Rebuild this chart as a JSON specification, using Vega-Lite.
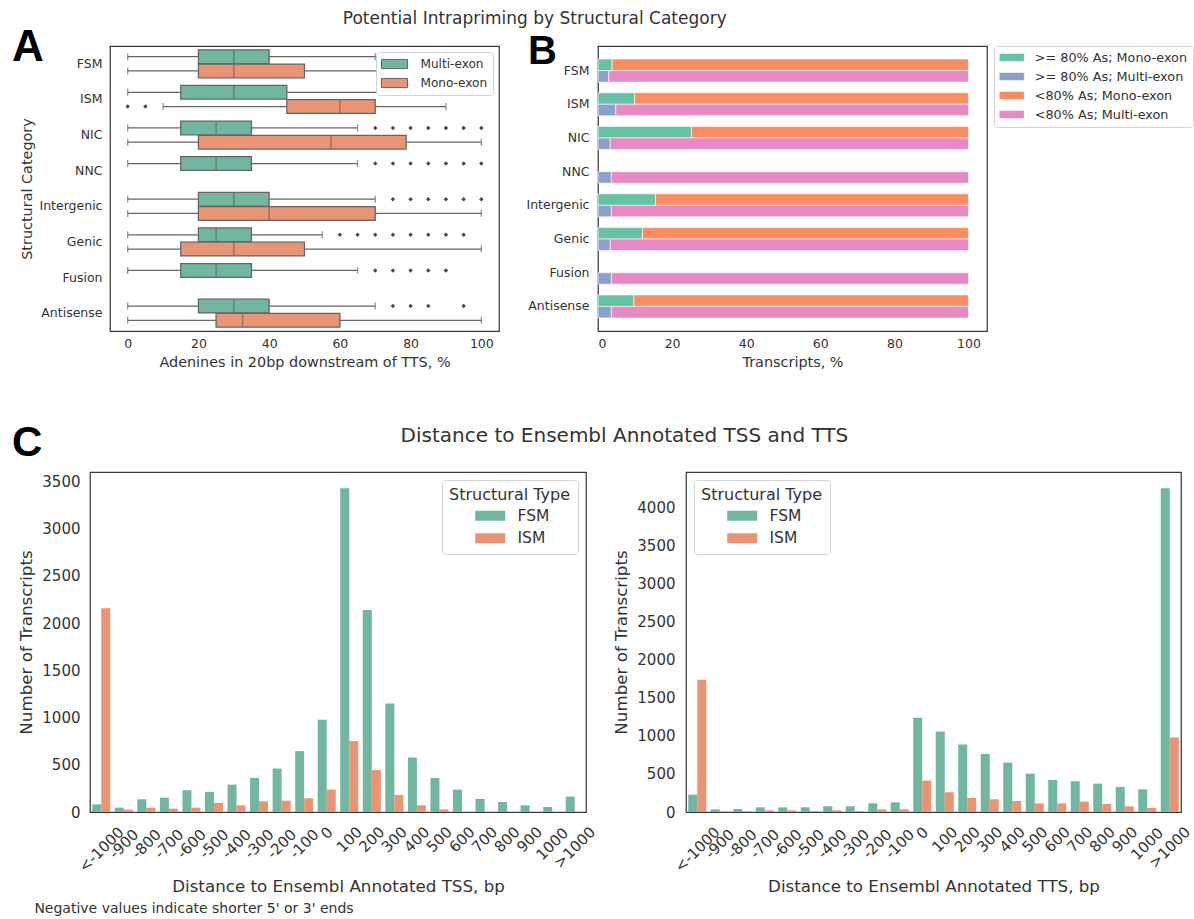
{
  "$schema": "https://vega.github.io/schema/vega-lite/v6.json",
  "background": "white",
  "padding": {"left": 11, "top": 10, "right": 0, "bottom": 4},
  "config": {
    "font": "DejaVu Sans",
    "view": {"stroke": "#3a3a3a", "strokeWidth": 1.25},
    "axis": {"domain": false, "ticks": false, "grid": false, "labelColor": "#333333", "titleColor": "#333333", "titleFontWeight": "normal", "labelFont": "DejaVu Sans", "titleFont": "DejaVu Sans"},
    "legend": {"labelColor": "#333333", "titleColor": "#333333", "titleFontWeight": "normal", "labelFont": "DejaVu Sans", "titleFont": "DejaVu Sans"},
    "title": {"color": "#333333", "fontWeight": "normal", "font": "DejaVu Sans"}
  },
  "title": {"text": "Negative values indicate shorter 5' or 3' ends", "orient": "bottom", "anchor": "start", "fontSize": 14, "offset": 6, "dx": 23},
  "datasets": {
    "boxes": [
      {"cat": "FSM", "exon": "Multi-exon", "lo": 0, "q1": 20, "med": 30, "q3": 40, "hi": 70},
      {"cat": "FSM", "exon": "Mono-exon", "lo": 0, "q1": 20, "med": 30, "q3": 50, "hi": 95},
      {"cat": "ISM", "exon": "Multi-exon", "lo": 0, "q1": 15, "med": 30, "q3": 45, "hi": 85},
      {"cat": "ISM", "exon": "Mono-exon", "lo": 10, "q1": 45, "med": 60, "q3": 70, "hi": 90},
      {"cat": "NIC", "exon": "Multi-exon", "lo": 0, "q1": 15, "med": 25, "q3": 35, "hi": 65},
      {"cat": "NIC", "exon": "Mono-exon", "lo": 0, "q1": 20, "med": 57.5, "q3": 78.75, "hi": 100},
      {"cat": "NNC", "exon": "Multi-exon", "lo": 0, "q1": 15, "med": 25, "q3": 35, "hi": 65},
      {"cat": "Intergenic", "exon": "Multi-exon", "lo": 0, "q1": 20, "med": 30, "q3": 40, "hi": 70},
      {"cat": "Intergenic", "exon": "Mono-exon", "lo": 0, "q1": 20, "med": 40, "q3": 70, "hi": 100},
      {"cat": "Genic", "exon": "Multi-exon", "lo": 0, "q1": 20, "med": 25, "q3": 35, "hi": 55},
      {"cat": "Genic", "exon": "Mono-exon", "lo": 0, "q1": 15, "med": 30, "q3": 50, "hi": 100},
      {"cat": "Fusion", "exon": "Multi-exon", "lo": 0, "q1": 15, "med": 25, "q3": 35, "hi": 65},
      {"cat": "Antisense", "exon": "Multi-exon", "lo": 0, "q1": 20, "med": 30, "q3": 40, "hi": 70},
      {"cat": "Antisense", "exon": "Mono-exon", "lo": 0, "q1": 25, "med": 32.5, "q3": 60, "hi": 100}
    ],
    "fliers": [
      {"cat": "FSM", "exon": "Multi-exon", "v": 75}, {"cat": "FSM", "exon": "Multi-exon", "v": 80}, {"cat": "FSM", "exon": "Multi-exon", "v": 85}, {"cat": "FSM", "exon": "Multi-exon", "v": 90}, {"cat": "FSM", "exon": "Multi-exon", "v": 95}, {"cat": "FSM", "exon": "Multi-exon", "v": 100},
      {"cat": "ISM", "exon": "Multi-exon", "v": 90}, {"cat": "ISM", "exon": "Multi-exon", "v": 95}, {"cat": "ISM", "exon": "Multi-exon", "v": 100},
      {"cat": "ISM", "exon": "Mono-exon", "v": 0}, {"cat": "ISM", "exon": "Mono-exon", "v": 5},
      {"cat": "NIC", "exon": "Multi-exon", "v": 70}, {"cat": "NIC", "exon": "Multi-exon", "v": 75}, {"cat": "NIC", "exon": "Multi-exon", "v": 80}, {"cat": "NIC", "exon": "Multi-exon", "v": 85}, {"cat": "NIC", "exon": "Multi-exon", "v": 90}, {"cat": "NIC", "exon": "Multi-exon", "v": 95}, {"cat": "NIC", "exon": "Multi-exon", "v": 100},
      {"cat": "NNC", "exon": "Multi-exon", "v": 70}, {"cat": "NNC", "exon": "Multi-exon", "v": 75}, {"cat": "NNC", "exon": "Multi-exon", "v": 80}, {"cat": "NNC", "exon": "Multi-exon", "v": 85}, {"cat": "NNC", "exon": "Multi-exon", "v": 90}, {"cat": "NNC", "exon": "Multi-exon", "v": 95}, {"cat": "NNC", "exon": "Multi-exon", "v": 100},
      {"cat": "Intergenic", "exon": "Multi-exon", "v": 75}, {"cat": "Intergenic", "exon": "Multi-exon", "v": 80}, {"cat": "Intergenic", "exon": "Multi-exon", "v": 85}, {"cat": "Intergenic", "exon": "Multi-exon", "v": 90}, {"cat": "Intergenic", "exon": "Multi-exon", "v": 95}, {"cat": "Intergenic", "exon": "Multi-exon", "v": 100},
      {"cat": "Genic", "exon": "Multi-exon", "v": 60}, {"cat": "Genic", "exon": "Multi-exon", "v": 65}, {"cat": "Genic", "exon": "Multi-exon", "v": 70}, {"cat": "Genic", "exon": "Multi-exon", "v": 75}, {"cat": "Genic", "exon": "Multi-exon", "v": 80}, {"cat": "Genic", "exon": "Multi-exon", "v": 85}, {"cat": "Genic", "exon": "Multi-exon", "v": 90}, {"cat": "Genic", "exon": "Multi-exon", "v": 95},
      {"cat": "Fusion", "exon": "Multi-exon", "v": 70}, {"cat": "Fusion", "exon": "Multi-exon", "v": 75}, {"cat": "Fusion", "exon": "Multi-exon", "v": 80}, {"cat": "Fusion", "exon": "Multi-exon", "v": 85}, {"cat": "Fusion", "exon": "Multi-exon", "v": 90},
      {"cat": "Antisense", "exon": "Multi-exon", "v": 75}, {"cat": "Antisense", "exon": "Multi-exon", "v": 80}, {"cat": "Antisense", "exon": "Multi-exon", "v": 85}, {"cat": "Antisense", "exon": "Multi-exon", "v": 95}
    ],
    "pct": [
      {"cat": "FSM", "bar": "Mono", "series": ">= 80% As; Mono-exon", "pct": 3.8, "ord": 1},
      {"cat": "FSM", "bar": "Mono", "series": "<80% As; Mono-exon", "pct": 96.2, "ord": 2},
      {"cat": "FSM", "bar": "Multi", "series": ">= 80% As; Multi-exon", "pct": 2.9, "ord": 1},
      {"cat": "FSM", "bar": "Multi", "series": "<80% As; Multi-exon", "pct": 97.1, "ord": 2},
      {"cat": "ISM", "bar": "Mono", "series": ">= 80% As; Mono-exon", "pct": 9.9, "ord": 1},
      {"cat": "ISM", "bar": "Mono", "series": "<80% As; Mono-exon", "pct": 90.1, "ord": 2},
      {"cat": "ISM", "bar": "Multi", "series": ">= 80% As; Multi-exon", "pct": 4.8, "ord": 1},
      {"cat": "ISM", "bar": "Multi", "series": "<80% As; Multi-exon", "pct": 95.2, "ord": 2},
      {"cat": "NIC", "bar": "Mono", "series": ">= 80% As; Mono-exon", "pct": 25.2, "ord": 1},
      {"cat": "NIC", "bar": "Mono", "series": "<80% As; Mono-exon", "pct": 74.8, "ord": 2},
      {"cat": "NIC", "bar": "Multi", "series": ">= 80% As; Multi-exon", "pct": 3.3, "ord": 1},
      {"cat": "NIC", "bar": "Multi", "series": "<80% As; Multi-exon", "pct": 96.7, "ord": 2},
      {"cat": "NNC", "bar": "Multi", "series": ">= 80% As; Multi-exon", "pct": 3.6, "ord": 1},
      {"cat": "NNC", "bar": "Multi", "series": "<80% As; Multi-exon", "pct": 96.4, "ord": 2},
      {"cat": "Intergenic", "bar": "Mono", "series": ">= 80% As; Mono-exon", "pct": 15.5, "ord": 1},
      {"cat": "Intergenic", "bar": "Mono", "series": "<80% As; Mono-exon", "pct": 84.5, "ord": 2},
      {"cat": "Intergenic", "bar": "Multi", "series": ">= 80% As; Multi-exon", "pct": 3.6, "ord": 1},
      {"cat": "Intergenic", "bar": "Multi", "series": "<80% As; Multi-exon", "pct": 96.4, "ord": 2},
      {"cat": "Genic", "bar": "Mono", "series": ">= 80% As; Mono-exon", "pct": 12.0, "ord": 1},
      {"cat": "Genic", "bar": "Mono", "series": "<80% As; Mono-exon", "pct": 88.0, "ord": 2},
      {"cat": "Genic", "bar": "Multi", "series": ">= 80% As; Multi-exon", "pct": 3.3, "ord": 1},
      {"cat": "Genic", "bar": "Multi", "series": "<80% As; Multi-exon", "pct": 96.7, "ord": 2},
      {"cat": "Fusion", "bar": "Multi", "series": ">= 80% As; Multi-exon", "pct": 3.6, "ord": 1},
      {"cat": "Fusion", "bar": "Multi", "series": "<80% As; Multi-exon", "pct": 96.4, "ord": 2},
      {"cat": "Antisense", "bar": "Mono", "series": ">= 80% As; Mono-exon", "pct": 9.7, "ord": 1},
      {"cat": "Antisense", "bar": "Mono", "series": "<80% As; Mono-exon", "pct": 90.3, "ord": 2},
      {"cat": "Antisense", "bar": "Multi", "series": ">= 80% As; Multi-exon", "pct": 3.6, "ord": 1},
      {"cat": "Antisense", "bar": "Multi", "series": "<80% As; Multi-exon", "pct": 96.4, "ord": 2}
    ],
    "tss": [
      {"bin": "<-1000", "stype": "FSM", "n": 81}, {"bin": "<-1000", "stype": "ISM", "n": 2157},
      {"bin": "-900", "stype": "FSM", "n": 46}, {"bin": "-900", "stype": "ISM", "n": 25},
      {"bin": "-800", "stype": "FSM", "n": 135}, {"bin": "-800", "stype": "ISM", "n": 46},
      {"bin": "-700", "stype": "FSM", "n": 152}, {"bin": "-700", "stype": "ISM", "n": 35},
      {"bin": "-600", "stype": "FSM", "n": 230}, {"bin": "-600", "stype": "ISM", "n": 46},
      {"bin": "-500", "stype": "FSM", "n": 213}, {"bin": "-500", "stype": "ISM", "n": 96},
      {"bin": "-400", "stype": "FSM", "n": 290}, {"bin": "-400", "stype": "ISM", "n": 71},
      {"bin": "-300", "stype": "FSM", "n": 361}, {"bin": "-300", "stype": "ISM", "n": 113},
      {"bin": "-200", "stype": "FSM", "n": 460}, {"bin": "-200", "stype": "ISM", "n": 120},
      {"bin": "-100", "stype": "FSM", "n": 645}, {"bin": "-100", "stype": "ISM", "n": 145},
      {"bin": "0", "stype": "FSM", "n": 978}, {"bin": "0", "stype": "ISM", "n": 237},
      {"bin": "100", "stype": "FSM", "n": 3429}, {"bin": "100", "stype": "ISM", "n": 751},
      {"bin": "200", "stype": "FSM", "n": 2140}, {"bin": "200", "stype": "ISM", "n": 446},
      {"bin": "300", "stype": "FSM", "n": 1148}, {"bin": "300", "stype": "ISM", "n": 181},
      {"bin": "400", "stype": "FSM", "n": 577}, {"bin": "400", "stype": "ISM", "n": 71},
      {"bin": "500", "stype": "FSM", "n": 361}, {"bin": "500", "stype": "ISM", "n": 28},
      {"bin": "600", "stype": "FSM", "n": 237}, {"bin": "600", "stype": "ISM", "n": 0},
      {"bin": "700", "stype": "FSM", "n": 138}, {"bin": "700", "stype": "ISM", "n": 0},
      {"bin": "800", "stype": "FSM", "n": 106}, {"bin": "800", "stype": "ISM", "n": 0},
      {"bin": "900", "stype": "FSM", "n": 71}, {"bin": "900", "stype": "ISM", "n": 0},
      {"bin": "1000", "stype": "FSM", "n": 53}, {"bin": "1000", "stype": "ISM", "n": 0},
      {"bin": ">1000", "stype": "FSM", "n": 163}, {"bin": ">1000", "stype": "ISM", "n": 0}
    ],
    "tts": [
      {"bin": "<-1000", "stype": "FSM", "n": 228}, {"bin": "<-1000", "stype": "ISM", "n": 1737},
      {"bin": "-900", "stype": "FSM", "n": 35}, {"bin": "-900", "stype": "ISM", "n": 3},
      {"bin": "-800", "stype": "FSM", "n": 39}, {"bin": "-800", "stype": "ISM", "n": 9},
      {"bin": "-700", "stype": "FSM", "n": 61}, {"bin": "-700", "stype": "ISM", "n": 22},
      {"bin": "-600", "stype": "FSM", "n": 61}, {"bin": "-600", "stype": "ISM", "n": 22},
      {"bin": "-500", "stype": "FSM", "n": 61}, {"bin": "-500", "stype": "ISM", "n": 9},
      {"bin": "-400", "stype": "FSM", "n": 75}, {"bin": "-400", "stype": "ISM", "n": 22},
      {"bin": "-300", "stype": "FSM", "n": 75}, {"bin": "-300", "stype": "ISM", "n": 9},
      {"bin": "-200", "stype": "FSM", "n": 114}, {"bin": "-200", "stype": "ISM", "n": 35},
      {"bin": "-100", "stype": "FSM", "n": 127}, {"bin": "-100", "stype": "ISM", "n": 35},
      {"bin": "0", "stype": "FSM", "n": 1237}, {"bin": "0", "stype": "ISM", "n": 412},
      {"bin": "100", "stype": "FSM", "n": 1057}, {"bin": "100", "stype": "ISM", "n": 259},
      {"bin": "200", "stype": "FSM", "n": 886}, {"bin": "200", "stype": "ISM", "n": 184},
      {"bin": "300", "stype": "FSM", "n": 763}, {"bin": "300", "stype": "ISM", "n": 167},
      {"bin": "400", "stype": "FSM", "n": 649}, {"bin": "400", "stype": "ISM", "n": 145},
      {"bin": "500", "stype": "FSM", "n": 504}, {"bin": "500", "stype": "ISM", "n": 114},
      {"bin": "600", "stype": "FSM", "n": 421}, {"bin": "600", "stype": "ISM", "n": 114},
      {"bin": "700", "stype": "FSM", "n": 404}, {"bin": "700", "stype": "ISM", "n": 136},
      {"bin": "800", "stype": "FSM", "n": 373}, {"bin": "800", "stype": "ISM", "n": 105},
      {"bin": "900", "stype": "FSM", "n": 329}, {"bin": "900", "stype": "ISM", "n": 75},
      {"bin": "1000", "stype": "FSM", "n": 298}, {"bin": "1000", "stype": "ISM", "n": 53},
      {"bin": ">1000", "stype": "FSM", "n": 4250}, {"bin": ">1000", "stype": "ISM", "n": 978}
    ]
  },
  "columns": 1,
  "spacing": 51,
  "resolve": {"scale": {"color": "independent", "xOffset": "independent", "yOffset": "independent"}, "legend": {"color": "independent"}},
  "concat": [
    {
      "title": {"text": "Potential Intrapriming by Structural Category", "fontSize": 17, "anchor": "middle", "offset": -3, "dx": -68},
      "spacing": -80,
      "resolve": {"scale": {"color": "independent", "xOffset": "independent", "yOffset": "independent"}, "legend": {"color": "independent"}},
      "hconcat": [
        {
          "width": 1,
          "height": 1,
          "view": {"stroke": null},
          "data": {"values": []},
          "mark": {"type": "point"},
          "encoding": {}
        },
        {
          "spacing": 25,
          "resolve": {"scale": {"color": "independent", "xOffset": "independent", "yOffset": "independent"}, "legend": {"color": "independent"}},
          "hconcat": [
            {
              "width": 389,
              "height": 285,
              "title": {"text": "A", "font": "Liberation Sans", "fontSize": 44, "fontWeight": "bold", "color": "#000000", "anchor": "start", "frame": "group", "dx": -98, "offset": -59, "baseline": "alphabetic"},
              "data": {"name": "boxes"},
              "layer": [
                {
                  "mark": {"type": "rule", "color": "#666666", "strokeWidth": 1.3},
                  "encoding": {
                    "y": {"field": "cat", "type": "nominal", "scale": {"domain": ["FSM", "ISM", "NIC", "NNC", "Intergenic", "Genic", "Fusion", "Antisense"], "paddingInner": 0.2, "paddingOuter": 0.1}, "axis": {"title": "Structural Category", "labelFontSize": 12.5, "labelPadding": 8, "titleFontSize": 14.4, "titlePadding": 4}},
                    "yOffset": {"field": "exon", "type": "nominal", "scale": {"domain": ["Multi-exon", "Mono-exon"], "paddingInner": 0.04, "paddingOuter": 0.02}},
                    "x": {"field": "lo", "type": "quantitative", "title": "Adenines in 20bp downstream of TTS, %", "scale": {"domain": [-5, 105], "nice": false, "zero": false}, "axis": {"values": [0, 20, 40, 60, 80, 100], "labelFontSize": 12.5, "labelPadding": 6, "titleFontSize": 14.4, "titlePadding": 6}},
                    "x2": {"field": "hi"}
                  }
                },
                {
                  "mark": {"type": "tick", "color": "#666666", "size": 7, "thickness": 1.3},
                  "encoding": {
                    "y": {"field": "cat", "type": "nominal"},
                    "yOffset": {"field": "exon", "type": "nominal"},
                    "x": {"field": "lo", "type": "quantitative", "title": "Adenines in 20bp downstream of TTS, %"}
                  }
                },
                {
                  "mark": {"type": "tick", "color": "#666666", "size": 7, "thickness": 1.3},
                  "encoding": {
                    "y": {"field": "cat", "type": "nominal"},
                    "yOffset": {"field": "exon", "type": "nominal"},
                    "x": {"field": "hi", "type": "quantitative", "title": "Adenines in 20bp downstream of TTS, %"}
                  }
                },
                {
                  "mark": {"type": "bar", "stroke": "#666666", "strokeWidth": 1.3},
                  "encoding": {
                    "y": {"field": "cat", "type": "nominal"},
                    "yOffset": {"field": "exon", "type": "nominal"},
                    "x": {"field": "q1", "type": "quantitative", "title": "Adenines in 20bp downstream of TTS, %"},
                    "x2": {"field": "q3"},
                    "color": {"field": "exon", "type": "nominal", "scale": {"domain": ["Multi-exon", "Mono-exon"], "range": ["#71b6a1", "#e99575"]},
                      "legend": {"title": null, "orient": "top-right", "offset": 6, "fillColor": "white", "strokeColor": "#d4d4d4", "cornerRadius": 3, "padding": 5, "symbolType": "M-2,-0.7H2V0.7H-2Z", "symbolSize": 169, "symbolOffset": 6.5, "symbolStrokeColor": "#666666", "symbolStrokeWidth": 1, "symbolOpacity": 1, "labelFontSize": 12.1, "labelOffset": 19, "rowPadding": 5}}
                  }
                },
                {
                  "mark": {"type": "tick", "color": "#666666", "size": 13.7, "thickness": 1.5},
                  "encoding": {
                    "y": {"field": "cat", "type": "nominal"},
                    "yOffset": {"field": "exon", "type": "nominal"},
                    "x": {"field": "med", "type": "quantitative", "title": "Adenines in 20bp downstream of TTS, %"}
                  }
                },
                {
                  "data": {"name": "fliers"},
                  "mark": {"type": "point", "shape": "diamond", "filled": true, "color": "#4a4a4a", "size": 20, "opacity": 1},
                  "encoding": {
                    "y": {"field": "cat", "type": "nominal"},
                    "yOffset": {"field": "exon", "type": "nominal"},
                    "x": {"field": "v", "type": "quantitative", "title": "Adenines in 20bp downstream of TTS, %"}
                  }
                }
              ]
            },
            {
              "width": 389,
              "height": 285,
              "title": {"text": "B", "font": "Liberation Sans", "fontSize": 40, "fontWeight": "bold", "color": "#000000", "anchor": "start", "frame": "group", "dx": -70, "offset": -58, "baseline": "alphabetic"},
              "data": {"name": "pct"},
              "mark": {"type": "bar", "stroke": "white", "strokeWidth": 0.6},
              "encoding": {
                "y": {"field": "cat", "type": "nominal", "scale": {"domain": ["FSM", "ISM", "NIC", "NNC", "Intergenic", "Genic", "Fusion", "Antisense"], "paddingInner": 0.318, "paddingOuter": 0.388}, "axis": {"title": null, "labelFontSize": 12.5, "labelPadding": 9}},
                "yOffset": {"field": "bar", "type": "nominal", "scale": {"domain": ["Mono", "Multi"], "paddingInner": 0, "paddingOuter": 0}},
                "x": {"field": "pct", "type": "quantitative", "stack": "zero", "title": "Transcripts, %", "scale": {"domain": [0, 105], "nice": false}, "axis": {"values": [0, 20, 40, 60, 80, 100], "labelFontSize": 12.5, "labelPadding": 6, "titleFontSize": 14.4, "titlePadding": 6}},
                "color": {"field": "series", "type": "nominal", "scale": {"domain": [">= 80% As; Mono-exon", ">= 80% As; Multi-exon", "<80% As; Mono-exon", "<80% As; Multi-exon"], "range": ["#66c2a5", "#8da0cb", "#fc8d62", "#e78ac3"]},
                  "legend": {"title": null, "orient": "right", "offset": 7, "fillColor": "white", "strokeColor": "#d4d4d4", "cornerRadius": 3, "padding": 5, "symbolType": "M-2,-0.64H2V0.64H-2Z", "symbolSize": 156.25, "symbolOffset": 6.25, "symbolStrokeColor": "white", "symbolStrokeWidth": 0.5, "symbolOpacity": 1, "labelFontSize": 12.8, "labelOffset": 16.5, "rowPadding": 5}},
                "order": {"field": "ord", "type": "quantitative"}
              }
            }
          ]
        }
      ]
    },
    {
      "title": {"text": "Distance to Ensembl Annotated TSS and TTS", "fontSize": 20, "anchor": "middle", "offset": -25, "dx": 22},
      "spacing": 14,
      "resolve": {"scale": {"color": "independent", "xOffset": "independent", "yOffset": "independent"}, "legend": {"color": "independent"}},
      "hconcat": [
        {
          "width": 496,
          "height": 340,
          "title": {"text": "C", "font": "Liberation Sans", "fontSize": 42, "fontWeight": "bold", "color": "#000000", "anchor": "start", "frame": "group", "dx": -78, "offset": -26, "baseline": "alphabetic"},
          "data": {"name": "tss"},
          "mark": {"type": "bar"},
          "encoding": {
            "x": {"field": "bin", "type": "nominal", "title": "Distance to Ensembl Annotated TSS, bp", "scale": {"domain": ["<-1000", "-900", "-800", "-700", "-600", "-500", "-400", "-300", "-200", "-100", "0", "100", "200", "300", "400", "500", "600", "700", "800", "900", "1000", ">1000"], "paddingInner": 0.2, "paddingOuter": 0.1},
              "axis": {"labelAngle": -45, "labelAlign": "center", "labelBaseline": "middle", "labelFontSize": 15,
                "labelPadding": {"condition": [{"test": "length(datum.value) <= 1", "value": 20.5}, {"test": "length(datum.value) == 3", "value": 27}, {"test": "length(datum.value) == 4", "value": 31.5}, {"test": "length(datum.value) == 5", "value": 35}], "value": 37},
                "titleFontSize": 16.7, "titlePadding": 4}},
            "xOffset": {"field": "stype", "type": "nominal", "scale": {"domain": ["FSM", "ISM"], "paddingInner": 0, "paddingOuter": 0}},
            "y": {"field": "n", "type": "quantitative", "title": "Number of Transcripts", "scale": {"domain": [0, 3600], "nice": false}, "axis": {"values": [0, 500, 1000, 1500, 2000, 2500, 3000, 3500], "format": "d", "labelFontSize": 15, "labelPadding": 10, "titleFontSize": 16.7, "titlePadding": 6}},
            "color": {"field": "stype", "type": "nominal", "scale": {"domain": ["FSM", "ISM"], "range": ["#71b6a1", "#e99575"]},
              "legend": {"title": "Structural Type", "orient": "top-right", "offset": 8, "fillColor": "white", "strokeColor": "#d4d4d4", "cornerRadius": 3, "padding": 7, "titleFontSize": 16, "titleAnchor": "start", "titlePadding": 5, "symbolType": "M-2,-0.667H2V0.667H-2Z", "symbolSize": 225, "symbolOffset": 33.5, "symbolStrokeWidth": 0, "symbolOpacity": 1, "labelFontSize": 15.5, "labelOffset": 19.5, "rowPadding": 5.5}}
          }
        },
        {
          "width": 495,
          "height": 340,
          "data": {"name": "tts"},
          "mark": {"type": "bar"},
          "encoding": {
            "x": {"field": "bin", "type": "nominal", "title": "Distance to Ensembl Annotated TTS, bp", "scale": {"domain": ["<-1000", "-900", "-800", "-700", "-600", "-500", "-400", "-300", "-200", "-100", "0", "100", "200", "300", "400", "500", "600", "700", "800", "900", "1000", ">1000"], "paddingInner": 0.2, "paddingOuter": 0.1},
              "axis": {"labelAngle": -45, "labelAlign": "center", "labelBaseline": "middle", "labelFontSize": 15,
                "labelPadding": {"condition": [{"test": "length(datum.value) <= 1", "value": 20.5}, {"test": "length(datum.value) == 3", "value": 27}, {"test": "length(datum.value) == 4", "value": 31.5}, {"test": "length(datum.value) == 5", "value": 35}], "value": 37},
                "titleFontSize": 16.7, "titlePadding": 4}},
            "xOffset": {"field": "stype", "type": "nominal", "scale": {"domain": ["FSM", "ISM"], "paddingInner": 0, "paddingOuter": 0}},
            "y": {"field": "n", "type": "quantitative", "title": "Number of Transcripts", "scale": {"domain": [0, 4465], "nice": false}, "axis": {"values": [0, 500, 1000, 1500, 2000, 2500, 3000, 3500, 4000], "format": "d", "labelFontSize": 15, "labelPadding": 11, "titleFontSize": 16.7, "titlePadding": 6}},
            "color": {"field": "stype", "type": "nominal", "scale": {"domain": ["FSM", "ISM"], "range": ["#71b6a1", "#e99575"]},
              "legend": {"title": "Structural Type", "orient": "top-left", "offset": 8, "fillColor": "white", "strokeColor": "#d4d4d4", "cornerRadius": 3, "padding": 7, "titleFontSize": 16, "titleAnchor": "start", "titlePadding": 5, "symbolType": "M-2,-0.667H2V0.667H-2Z", "symbolSize": 225, "symbolOffset": 33.5, "symbolStrokeWidth": 0, "symbolOpacity": 1, "labelFontSize": 15.5, "labelOffset": 19.5, "rowPadding": 5.5}}
          }
        }
      ]
    }
  ]
}
